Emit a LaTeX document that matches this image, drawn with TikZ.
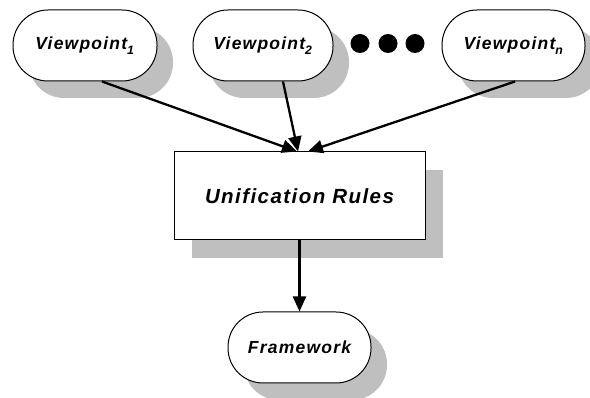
\documentclass[tikz,border=0pt]{standalone}
\usepackage{fontspec}
\setmainfont{Liberation Sans}
\newfontfamily\lblfont[LetterSpace=7]{Liberation Sans}
\usetikzlibrary{shadows,arrows.meta,calc}
\tikzset{
  shd/.style={drop shadow={shadow xshift=16pt,shadow yshift=-17pt,fill=black!25,opacity=1}},
  pill/.style={draw,line width=1pt,fill=white,rounded corners=35pt,minimum width=143pt,minimum height=71pt,shd,
    font=\lblfont\fontsize{17.5}{20}\selectfont\bfseries\itshape,inner sep=0pt},
  rbox/.style={draw,line width=1pt,fill=white,minimum width=251pt,minimum height=88pt,
    drop shadow={shadow xshift=18pt,shadow yshift=-18pt,fill=black!25,opacity=1},
    font=\lblfont\fontsize{20.5}{24}\selectfont\bfseries\itshape,inner sep=0pt},
  arr/.style={line width=2.3pt,-{Triangle[length=15pt,width=13pt]}},
  dot/.style={circle,fill=black,minimum size=19pt,inner sep=0pt}
}
\begin{document}
\begin{tikzpicture}[x=1pt,y=-1pt]
\useasboundingbox (0,0) rectangle (590,398);
\node[pill,minimum width=144pt] (v1) at (85,45.5) {Viewpoint\raisebox{-3pt}{\textsubscript{1}}};
\node[pill,minimum width=140pt] (v2) at (263,45.5) {Viewpoint\raisebox{-3pt}{\textsubscript{2}}};
\node[pill] (vn) at (513.5,45.5) {Viewpoint\raisebox{-3pt}{\textsubscript{n}}};
\node[dot] (d1) at (360,43.5) {};
\node[dot] (d2) at (388,43.5) {};
\node[dot] (d3) at (415,43.5) {};
\node[rbox] (ur) at (299.5,196) {Unification Rules};
\node[pill] (fw) at (299.5,347.5) {Framework};
\draw[arr] ([xshift=17pt]v1.south) -- ([xshift=-2.5pt]ur.north);
\draw[arr] ([xshift=20pt]v2.south) -- ([xshift=-1.5pt]ur.north);
\draw[arr] ([xshift=1.5pt]vn.south) -- ([xshift=8.5pt]ur.north);
\draw[arr] (ur.south) -- (fw.north);
\end{tikzpicture}
\end{document}
